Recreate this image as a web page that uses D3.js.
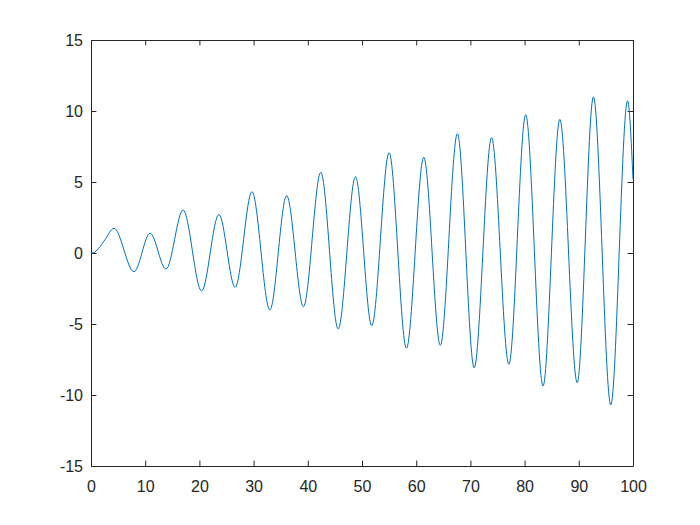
<!DOCTYPE html>
<html>
<head>
<meta charset="utf-8">
<script src="https://cdn.jsdelivr.net/npm/d3@7"></script>
<style>
  body { margin: 0; background: #fff; }
  .axis text { font-family: "Liberation Sans", Arial, sans-serif; font-size: 16px; fill: #262626; }
  .axis path, .axis line { stroke: #262626; }
</style>
</head>
<body>
<div id="chart"></div>
<script>
// curve: start, each peak / trough, end
var tValues = [0, 0.5, 1.35, 2.6, 4.24, 7.93, 10.9, 13.84, 17.0, 20.4, 23.6, 26.6, 29.7, 33.0, 36.1, 39.2,
    42.4, 45.6, 48.8, 51.8, 55.0, 58.2, 61.4, 64.45, 67.6, 70.7, 73.9, 77.1,
    80.2, 83.4, 86.5, 89.7, 92.7, 95.9, 99.0, 100];
var yValues = [0, 0.02, 0.3, 0.95, 1.74, -1.32, 1.39, -1.13, 3.03, -2.68, 2.72, -2.42, 4.32, -4.01, 4.04, -3.78,
    5.68, -5.35, 5.37, -5.12, 7.06, -6.71, 6.74, -6.50, 8.40, -8.08, 8.12, -7.84,
    9.74, -9.37, 9.41, -9.13, 11.0, -10.7, 10.72, 5.2];
var xTicks = [0, 10, 20, 30, 40, 50, 60, 70, 80, 90, 100];
var yTicks = [-15, -10, -5, 0, 5, 10, 15];

var data = tValues.map(function(t, i) { return {t: t, v: yValues[i]}; });

var svg = d3.select("#chart").append("svg").attr("width", 700).attr("height", 525),
    margin = {top: 40, right: 67, bottom: 59, left: 91},
    width = +svg.attr("width") - margin.left - margin.right,
    height = +svg.attr("height") - margin.top - margin.bottom;

var x = d3.scaleLinear().domain([0, 100]).range([0, width]),
    y = d3.scaleLinear().domain([-15, 15]).range([height, 0]);

var g = svg.append("g").attr("transform", "translate(" + margin.left + "," + margin.top + ")");

var tick = 5.4;
var fmt = function(d) { return String(d); }; // plain hyphen minus, like the original

g.append("g").attr("class", "axis")
    .attr("transform", "translate(0," + height + ")")
    .call(d3.axisBottom(x).tickValues(xTicks).tickSizeInner(-tick).tickSizeOuter(0).tickPadding(15).tickFormat(fmt));
g.append("g").attr("class", "axis")
    .call(d3.axisTop(x).tickValues(xTicks).tickSizeInner(-tick).tickSizeOuter(0).tickFormat(""));
g.append("g").attr("class", "axis")
    .call(d3.axisLeft(y).tickValues(yTicks).tickSizeInner(-tick).tickSizeOuter(0).tickPadding(8).tickFormat(fmt));
g.append("g").attr("class", "axis")
    .attr("transform", "translate(" + width + ",0)")
    .call(d3.axisRight(y).tickValues(yTicks).tickSizeInner(-tick).tickSizeOuter(0).tickFormat(""));

var line = d3.line()
    .curve(d3.curveMonotoneX)
    .x(function(d) { return x(d.t); })
    .y(function(d) { return y(d.v); });

g.append("path")
    .datum(data)
    .attr("fill", "none")
    .attr("stroke", "#0072BD")
    .attr("stroke-width", 1)
    .attr("d", line);
</script>
</body>
</html>
